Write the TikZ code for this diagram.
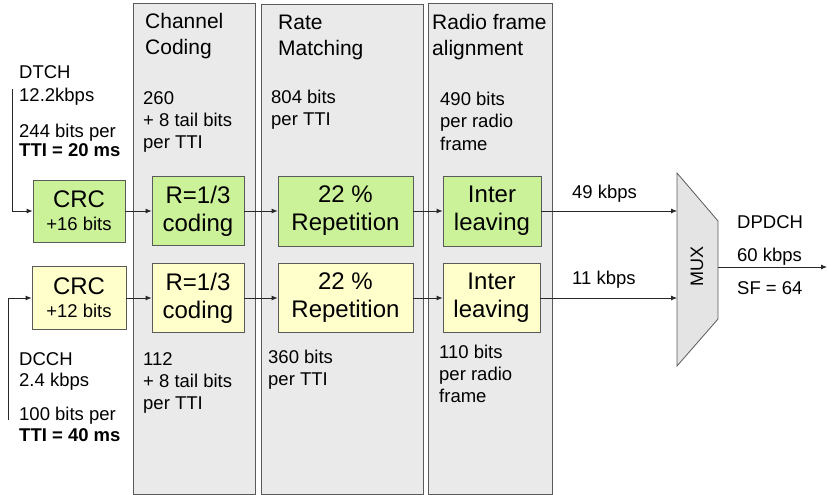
\documentclass[tikz,border=0pt]{standalone}
\usepackage{fontspec}
\setmainfont{Liberation Sans}
\usetikzlibrary{arrows.meta}
\definecolor{panelgray}{RGB}{234,234,234}
\definecolor{muxgray}{RGB}{228,228,228}
\definecolor{edgegray}{RGB}{90,90,90}
\definecolor{boxgreen}{RGB}{204,242,153}
\definecolor{boxyellow}{RGB}{255,255,204}
\definecolor{inkgray}{RGB}{40,40,40}
\begin{document}
\begin{tikzpicture}[x=1pt,y=-1pt,
  panel/.style={draw=edgegray,fill=panelgray,line width=1pt},
  blk/.style={draw=edgegray,line width=0.8pt,inner sep=0pt,align=center,
    font=\fontsize{24}{28}\selectfont},
  gblk/.style={blk,fill=boxgreen},
  yblk/.style={blk,fill=boxyellow},
  lbl/.style={anchor=base west,inner sep=0pt,font=\fontsize{18.5}{22}\selectfont},
  ttl/.style={anchor=base west,inner sep=0pt,font=\fontsize{21}{26}\selectfont},
  arr/.style={draw=inkgray,line width=0.8pt,-{Latex[length=6pt,width=5pt]}},
]
\useasboundingbox (0,0) rectangle (828,495);

% processing stage panels
\draw[panel] (133,4) rectangle (255,494);
\draw[panel] (261,5) rectangle (423,494);
\draw[panel] (428,4) rectangle (552,494);

% stage titles
\node[ttl] (t1a) at (145,29) {Channel};
\node[ttl] (t1b) at (145,55) {Coding};
\node[ttl] (t2a) at (278,30) {Rate};
\node[ttl] (t2b) at (278,56) {Matching};
\node[ttl] (t3a) at (432,30) {Radio frame};
\node[ttl] (t3b) at (432,56) {alignment};

% DTCH chain
\node[gblk,minimum width=92,minimum height=62] (crc1) at (79,211)
  {CRC\\[-5pt]{\fontsize{18.5}{20}\selectfont +16 bits}};
\node[gblk,minimum width=92,minimum height=69] (cod1) at (198,211) {R=1/3\\coding};
\node[gblk,minimum width=135,minimum height=70] (rep1) at (345.5,211) {22 \%\\Repetition};
\node[gblk,minimum width=98,minimum height=70] (int1) at (492,211) {Inter\\leaving};

% DCCH chain
\node[yblk,minimum width=94,minimum height=63] (crc2) at (79,298)
  {CRC\\[-5pt]{\fontsize{18.5}{20}\selectfont +12 bits}};
\node[yblk,minimum width=92,minimum height=69] (cod2) at (198,298) {R=1/3\\coding};
\node[yblk,minimum width=135,minimum height=69] (rep2) at (345.5,298) {22 \%\\Repetition};
\node[yblk,minimum width=97,minimum height=69] (int2) at (491.5,298) {Inter\\leaving};

% multiplexer
\draw[draw=edgegray,fill=muxgray,line width=0.8pt]
  (677,173) -- (718,221) -- (718,319) -- (677,366) -- cycle;
\node[rotate=90,inner sep=0pt,font=\fontsize{18}{20}\selectfont] (mux) at (697,266) {MUX};
\coordinate (muxin1) at (677,211);
\coordinate (muxin2) at (677,298);
\coordinate (muxout) at (718,267);
\coordinate (out) at (827,267);

% input channels
\coordinate (in1) at (12,89);
\coordinate (in2) at (8,420);
\draw[arr] (in1) |- (crc1.west);
\draw[arr] (in2) |- (crc2.west);

% data flow
\draw[arr] (crc1.east) -- (cod1.west);
\draw[arr] (cod1.east) -- (rep1.west);
\draw[arr] (rep1.east) -- (int1.west);
\draw[arr] (int1.east) -- (muxin1);
\draw[arr] (crc2.east) -- (cod2.west);
\draw[arr] (cod2.east) -- (rep2.west);
\draw[arr] (rep2.east) -- (int2.west);
\draw[arr] (int2.east) -- (muxin2);
\draw[arr] (muxout) -- (out);

% DTCH annotations
\node[lbl] (a1) at (19,79) {DTCH};
\node[lbl] (a2) at (19,101.5) {12.2kbps};
\node[lbl] (a3) at (19,137) {244 bits per};
\node[lbl] (a4) at (19,157) {\bfseries TTI = 20 ms};
\node[lbl] (b1) at (143,104) {260};
\node[lbl] (b2) at (143,126) {+ 8 tail bits};
\node[lbl] (b3) at (143,148) {per TTI};
\node[lbl] (c1) at (271,103) {804 bits};
\node[lbl] (c2) at (271,125) {per TTI};
\node[lbl] (d1) at (440,106) {490 bits};
\node[lbl] (d2) at (440,128) {per radio};
\node[lbl] (d3) at (440,150) {frame};

% DCCH annotations
\node[lbl] (e1) at (19,365) {DCCH};
\node[lbl] (e2) at (19,386.5) {2.4 kbps};
\node[lbl] (e3) at (19,420) {100 bits per};
\node[lbl] (e4) at (19,441.5) {\bfseries TTI = 40 ms};
\node[lbl] (f1) at (143,365) {112};
\node[lbl] (f2) at (143,387) {+ 8 tail bits};
\node[lbl] (f3) at (143,409) {per TTI};
\node[lbl] (g1) at (268,363) {360 bits};
\node[lbl] (g2) at (268,385) {per TTI};
\node[lbl] (h1) at (439,358) {110 bits};
\node[lbl] (h2) at (439,380) {per radio};
\node[lbl] (h3) at (439,402) {frame};

% rates around the multiplexer
\node[lbl] (r1) at (572,198) {49 kbps};
\node[lbl] (r2) at (572,284) {11 kbps};
\node[lbl] (o1) at (737,228) {DPDCH};
\node[lbl] (o2) at (737,261) {60 kbps};
\node[lbl] (o3) at (737,294) {SF = 64};
\end{tikzpicture}
\end{document}
